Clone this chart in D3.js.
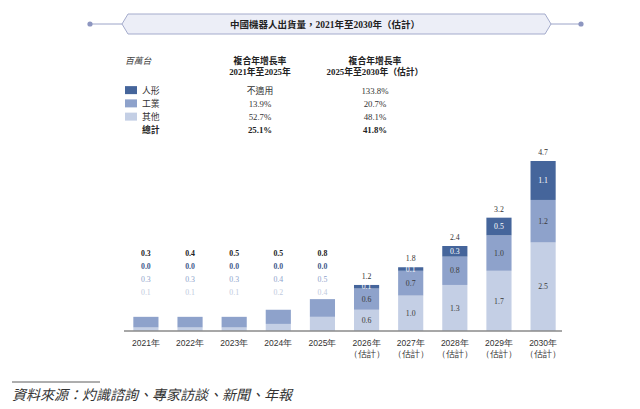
<!DOCTYPE html>
<html>
<head>
<meta charset="utf-8">
<script src="https://cdn.jsdelivr.net/npm/d3@7"></script>
<style>
  body { margin: 0; background: #fff; }
  svg { display: block; font-family: "Liberation Serif", "Noto Sans CJK TC", serif; }
</style>
</head>
<body>
<div id="chart"></div>
<script>
// data
const years = ["2021年", "2022年", "2023年", "2024年", "2025年", "2026年", "2027年", "2028年", "2029年", "2030年"];
const estimated = [false, false, false, false, false, true, true, true, true, true];
const humanoid = [0.0, 0.0, 0.0, 0.0, 0.0, 0.1, 0.1, 0.3, 0.5, 1.1];
const industrial = [0.3, 0.3, 0.3, 0.4, 0.5, 0.6, 0.7, 0.8, 1.0, 1.2];
const other = [0.1, 0.1, 0.1, 0.2, 0.4, 0.6, 1.0, 1.3, 1.7, 2.5];
const totals = [0.3, 0.4, 0.5, 0.5, 0.8, 1.2, 1.8, 2.4, 3.2, 4.7];

const seriesNames = ["人形", "工業", "其他"];
const cagr2125 = ["不適用", "13.9%", "52.7%"];
const cagr2530 = ["133.8%", "20.7%", "48.1%"];
const totalCagr = ["25.1%", "41.8%"];

const title = "中國機器人出貨量，2021年至2030年（估計）";
const unitLabel = "百萬台";
const source = "資料來源：灼識諮詢、專家訪談、新聞、年報";

const colors = { "其他": "#c4cfe5", "工業": "#8ea2cb", "人形": "#45659b" };
const smallLabelColor = { "人形": "#3f5a8c", "工業": "#8ea2cb", "其他": "#c0cadd" };

const width = 640, height = 409;
const baseY = 331;

const svg = d3.select("#chart").append("svg")
    .attr("width", width)
    .attr("height", height)
    .attr("viewBox", [0, 0, width, height]);

// title banner
const banner = svg.append("g");
banner.append("line").attr("x1", 90).attr("x2", 122).attr("y1", 24).attr("y2", 24)
    .attr("stroke", "#9ca4c8").attr("stroke-width", 1);
banner.append("line").attr("x1", 551).attr("x2", 581).attr("y1", 24).attr("y2", 24)
    .attr("stroke", "#9ca4c8").attr("stroke-width", 1);
banner.selectAll("circle").data([90, 581]).join("circle")
    .attr("cx", d => d).attr("cy", 24).attr("r", 2.6).attr("fill", "#8d96c0");
banner.append("polygon")
    .attr("points", [[122, 24], [128, 14], [545, 14], [551, 24], [545, 34], [128, 34]].join(" "))
    .attr("fill", "#eceef7")
    .attr("stroke", "#a4abcc")
    .attr("stroke-width", 1);
banner.append("text")
    .attr("x", 325).attr("y", 27.5)
    .attr("text-anchor", "middle")
    .attr("font-size", 9.5).attr("font-weight", "bold").attr("fill", "#222")
    .text(title);

// legend table
const table = svg.append("g").attr("font-size", 8.8).attr("fill", "#333");
table.append("text").attr("x", 125).attr("y", 64)
    .attr("font-style", "italic").attr("fill", "#444").text(unitLabel);

const headers = [
    { x: 260, lines: ["複合年增長率", "2021年至2025年"] },
    { x: 375, lines: ["複合年增長率", "2025年至2030年（估計）"] }
];
headers.forEach(h => {
    h.lines.forEach((t, i) => {
        table.append("text").attr("x", h.x).attr("y", 63.5 + i * 11.5)
            .attr("text-anchor", "middle").attr("font-weight", "bold").attr("fill", "#222")
            .text(t);
    });
});

const rowY = d3.scaleBand().domain(d3.range(4)).range([84, 137]);
seriesNames.forEach((name, i) => {
    const y = rowY(i) + rowY.bandwidth() / 2;
    table.append("rect").attr("x", 125).attr("y", y - 4.5).attr("width", 12).attr("height", 8)
        .attr("fill", colors[name]);
    table.append("text").attr("x", 142).attr("y", y + 3).attr("fill", "#333").text(name);
    table.append("text").attr("x", 260).attr("y", y + 3).attr("text-anchor", "middle").text(cagr2125[i]);
    table.append("text").attr("x", 375).attr("y", y + 3).attr("text-anchor", "middle").text(cagr2530[i]);
});
{
    const y = rowY(3) + rowY.bandwidth() / 2;
    table.append("text").attr("x", 142).attr("y", y + 3).attr("font-weight", "bold").attr("fill", "#222").text("總計");
    table.append("text").attr("x", 260).attr("y", y + 3).attr("text-anchor", "middle")
        .attr("font-weight", "bold").attr("fill", "#222").text(totalCagr[0]);
    table.append("text").attr("x", 375).attr("y", y + 3).attr("text-anchor", "middle")
        .attr("font-weight", "bold").attr("fill", "#222").text(totalCagr[1]);
}

// bars
const rows = years.map((y, i) => ({ year: y, "其他": other[i], "工業": industrial[i], "人形": humanoid[i], i }));
const stackKeys = ["其他", "工業", "人形"];
const stacked = d3.stack().keys(stackKeys)(rows);

const x = d3.scaleBand().domain(years).range([124.5, 564.5]).paddingInner(0.43).paddingOuter(0.2);
const y = d3.scaleLinear().domain([0, 4.8]).range([baseY, 161]);

const layers = svg.append("g").selectAll("g")
    .data(stacked)
    .join("g")
    .attr("fill", d => colors[d.key]);

layers.selectAll("rect")
    .data(d => d.map(v => Object.assign(v, { key: d.key })))
    .join("rect")
    .attr("x", d => x(d.data.year))
    .attr("width", x.bandwidth())
    .attr("y", d => y(d[1]))
    .attr("height", d => y(d[0]) - y(d[1]));

// labels inside bars for the forecast years
const inside = svg.append("g").attr("font-size", 7.8).attr("text-anchor", "middle");
stacked.forEach(layer => {
    layer.forEach(d => {
        if (!estimated[d.data.i]) return;
        const v = d[1] - d[0];
        inside.append("text")
            .attr("x", x(d.data.year) + x.bandwidth() / 2)
            .attr("y", (y(d[0]) + y(d[1])) / 2 + 2.7)
            .attr("fill", layer.key === "人形" ? "#fff" : "#3a3a3a")
            .text(v.toFixed(1));
    });
});

// totals above forecast bars
svg.append("g").attr("font-size", 7.8).attr("text-anchor", "middle").attr("fill", "#333")
    .selectAll("text")
    .data(rows.filter(d => estimated[d.i]))
    .join("text")
    .attr("x", d => x(d.year) + x.bandwidth() / 2)
    .attr("y", d => y(d["其他"] + d["工業"] + d["人形"]) - 6)
    .text(d => totals[d.i].toFixed(1));

// stacked label column above actual-year bars
const actual = rows.filter(d => !estimated[d.i]);
const labelRows = [
    { get: d => totals[d.i], color: "#222", bold: true },
    { get: d => d["人形"], color: smallLabelColor["人形"], bold: true },
    { get: d => d["工業"], color: smallLabelColor["工業"], bold: false },
    { get: d => d["其他"], color: smallLabelColor["其他"], bold: false }
];
labelRows.forEach((r, k) => {
    svg.append("g").attr("font-size", 7.8).attr("text-anchor", "middle")
        .attr("fill", r.color).attr("font-weight", r.bold ? "bold" : "normal")
        .selectAll("text")
        .data(actual)
        .join("text")
        .attr("x", d => x(d.year) + x.bandwidth() / 2)
        .attr("y", 255.5 + k * 13)
        .text(d => r.get(d).toFixed(1));
});

// x axis
const xAxis = svg.append("g")
    .attr("transform", `translate(0,${baseY})`)
    .call(d3.axisBottom(x).tickSize(0).tickPadding(10).tickFormat(""));
xAxis.select(".domain").attr("stroke", "#8a8a8a").attr("stroke-width", 1.5)
    .attr("d", "M124,0H562");
xAxis.selectAll(".tick").each(function (d, i) {
    const t = d3.select(this).append("text")
        .attr("fill", "#333").attr("font-size", 8.5).attr("text-anchor", "middle");
    t.append("tspan").attr("x", 0).attr("y", 15).text(d);
    if (estimated[i]) t.append("tspan").attr("x", 0).attr("y", 26).text("（估計）");
});

// source note
svg.append("line").attr("x1", 12).attr("x2", 100).attr("y1", 382).attr("y2", 382)
    .attr("stroke", "#333").attr("stroke-width", 0.8);
svg.append("text").attr("x", 12).attr("y", 400)
    .attr("font-size", 14).attr("font-style", "italic").attr("fill", "#333")
    .text(source);
</script>
</body>
</html>
